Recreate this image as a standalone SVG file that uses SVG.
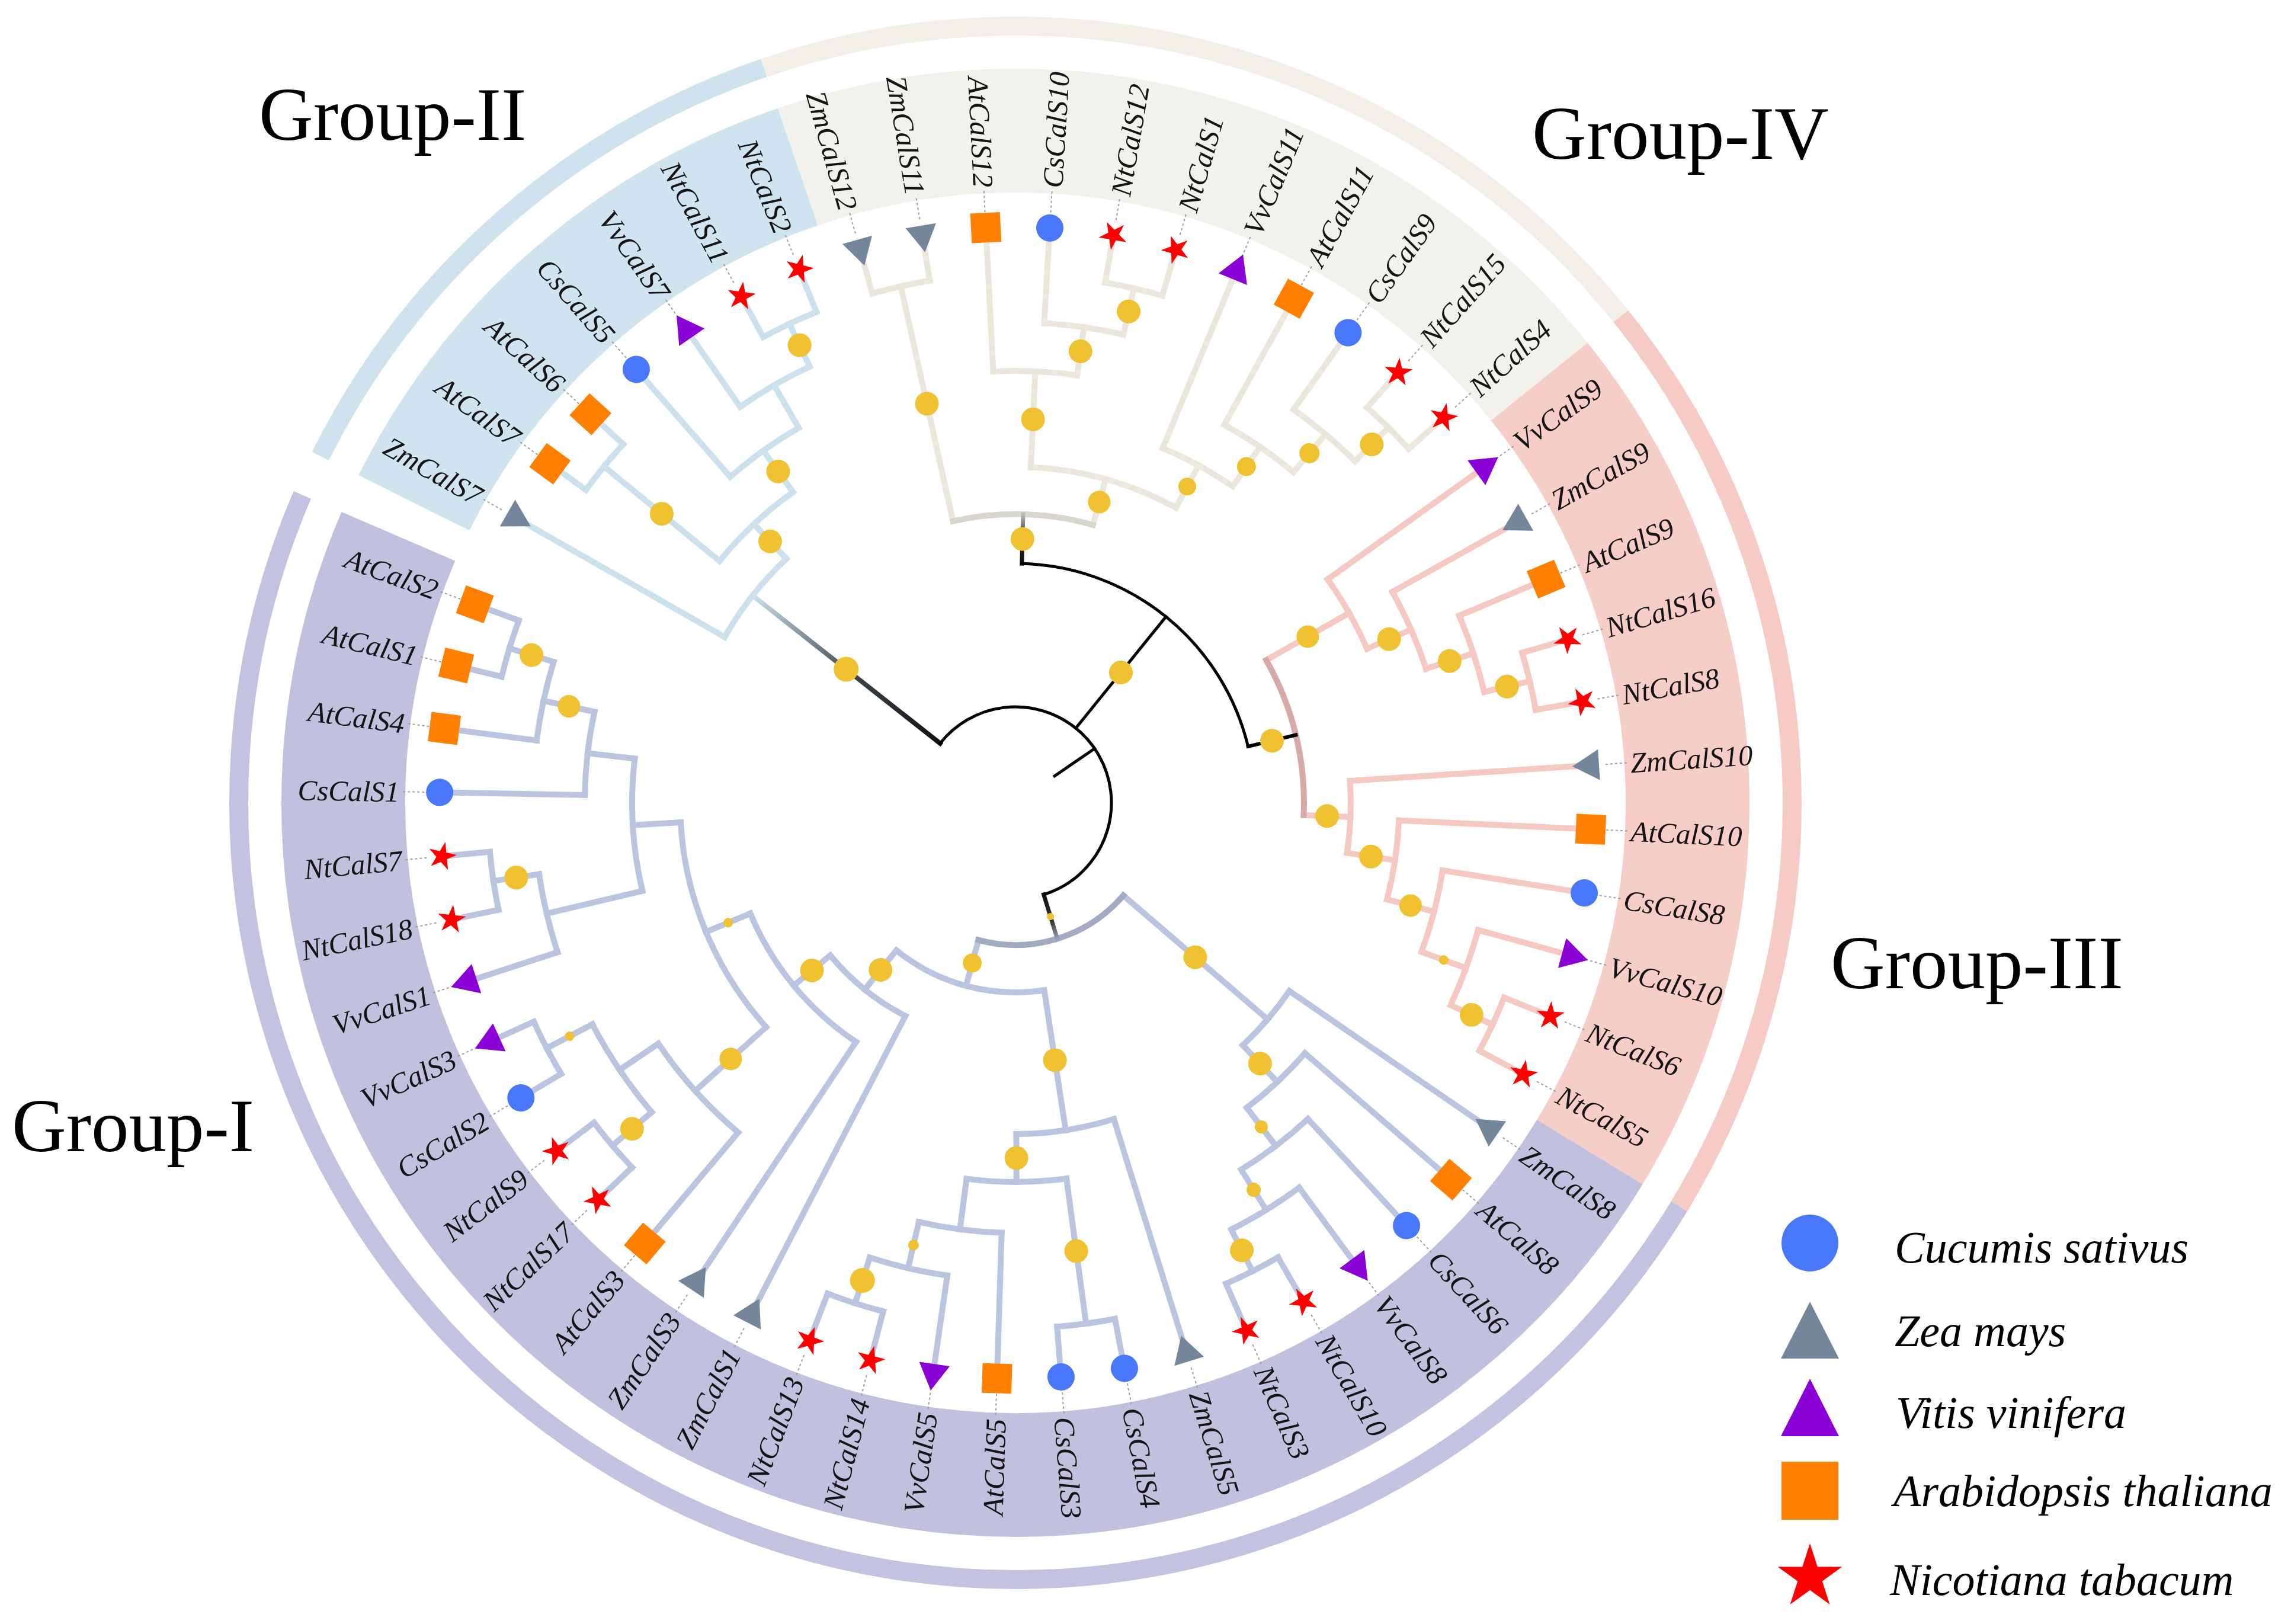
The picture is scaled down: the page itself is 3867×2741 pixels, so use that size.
<svg xmlns="http://www.w3.org/2000/svg" xmlns:xlink="http://www.w3.org/1999/xlink" width="3867" height="2741" viewBox="0 0 3867 2741">
<defs>
<style>
.lb{font-family:"Liberation Serif","Times New Roman",serif;font-style:italic;font-size:49px;fill:#141414}
.lr{text-anchor:end}
.ld{stroke:#a0a0a0;stroke-width:2;stroke-dasharray:4 4;fill:none}
.gl{font-family:"Liberation Serif","Times New Roman",serif;font-size:127px;fill:#000}
.lg{font-family:"Liberation Serif","Times New Roman",serif;font-style:italic;font-size:76px;fill:#000}
.dot{fill:#f0c232}
</style>
<circle id="cs" r="23" fill="#4877fa"/>
<rect id="at" x="-25" y="-25" width="50" height="50" fill="#ff8000"/>
<polygon id="zm" points="-30,0 15,26 15,-26" fill="#74879a"/>
<polygon id="vv" points="30,0 -15,26 -15,-26" fill="#8b02d6"/>
<polygon id="nt" points="-25,0 -7.77,-5.64 -7.73,-23.78 2.97,-9.13 20.23,-14.69 9.6,0 20.23,14.69 2.97,9.13 -7.73,23.78 -7.77,5.64" fill="#ff0000"/>
<linearGradient id="gF" gradientUnits="userSpaceOnUse" x1="162" y1="0" x2="565" y2="0"><stop offset="0" stop-color="#111"/><stop offset="0.45" stop-color="#3c434b"/><stop offset="1" stop-color="#cbe1ee"/></linearGradient>
<linearGradient id="gV" gradientUnits="userSpaceOnUse" x1="404" y1="0" x2="487" y2="0"><stop offset="0" stop-color="#111"/><stop offset="0.5" stop-color="#222"/><stop offset="1" stop-color="#bdbbb5"/></linearGradient>
<linearGradient id="gI" gradientUnits="userSpaceOnUse" x1="162" y1="0" x2="240" y2="0"><stop offset="0" stop-color="#111"/><stop offset="0.6" stop-color="#333"/><stop offset="1" stop-color="#9aa2ba"/></linearGradient>
</defs>
<rect width="3867" height="2741" fill="#fff"/>

<g id="bands" transform="translate(1714 1355)" fill="none">
<circle r="1134.5" stroke="#d0e4ef" stroke-width="209" pathLength="360" stroke-dasharray="44.6 720" transform="rotate(-153.49)"/>
<circle r="1134.5" stroke="#f3f1eb" stroke-width="209" pathLength="360" stroke-dasharray="70.1 720" transform="rotate(-108.89)"/>
<circle r="1134.5" stroke="#f7cdc7" stroke-width="209" pathLength="360" stroke-dasharray="70.09 720" transform="rotate(-38.79)"/>
<circle r="1134.5" stroke="#c1c0df" stroke-width="209" pathLength="360" stroke-dasharray="172.05 720" transform="rotate(31.3)"/>
<circle r="1311" stroke="#cfe3ee" stroke-width="32" pathLength="360" stroke-dasharray="44.6 720" transform="rotate(-153.49)"/>
<circle r="1311" stroke="#f2efe8" stroke-width="32" pathLength="360" stroke-dasharray="70.1 720" transform="rotate(-108.89)"/>
<circle r="1311" stroke="#f7cbc5" stroke-width="32" pathLength="360" stroke-dasharray="70.09 720" transform="rotate(-38.79)"/>
<circle r="1311" stroke="#c3c2e1" stroke-width="32" pathLength="360" stroke-dasharray="172.05 720" transform="rotate(31.3)"/>
</g>

<g id="connectors" transform="translate(1714 1355)" fill="none" stroke-linecap="square">
<g id="c-group2" stroke="#cbe1ee" stroke-width="10">
<circle r="894" pathLength="360" stroke-dasharray="6.37 720" transform="rotate(-118.44)"/>
<path d="M894 0H972" transform="rotate(-118.44)"/><path d="M894 0H972" transform="rotate(-112.07)"/>
<circle r="814" pathLength="360" stroke-dasharray="9.555 720" transform="rotate(-124.81)"/>
<path d="M814 0H972" transform="rotate(-124.81)"/><path d="M814 0H894" transform="rotate(-115.255)"/>
<circle r="731" pathLength="360" stroke-dasharray="11.15 720" transform="rotate(-131.18)"/>
<path d="M731 0H972" transform="rotate(-131.18)"/><path d="M731 0H814" transform="rotate(-120.03)"/>
<circle r="897" pathLength="360" stroke-dasharray="6.37 720" transform="rotate(-143.93)"/>
<path d="M897 0H972" transform="rotate(-143.93)"/><path d="M897 0H972" transform="rotate(-137.56)"/>
<circle r="645" pathLength="360" stroke-dasharray="15.135 720" transform="rotate(-140.745)"/>
<path d="M645 0H897" transform="rotate(-140.745)"/><path d="M645 0H731" transform="rotate(-125.61)"/>
<circle r="565" pathLength="360" stroke-dasharray="17.12 720" transform="rotate(-150.3)"/>
<path d="M565 0H972" transform="rotate(-150.3)"/><path d="M565 0H645" transform="rotate(-133.18)"/>
</g>
<path d="M162 0H565" stroke="url(#gF)" stroke-width="8" transform="rotate(-141.74)"/>

<g id="c-group4" stroke="#ebe7dd" stroke-width="10">
<circle r="893" pathLength="360" stroke-dasharray="6.38 720" transform="rotate(-105.7)"/>
<path d="M893 0H972" transform="rotate(-105.7)"/><path d="M893 0H972" transform="rotate(-99.32)"/>
<circle r="891" pathLength="360" stroke-dasharray="6.37 720" transform="rotate(-80.21)"/>
<path d="M891 0H972" transform="rotate(-80.21)"/><path d="M891 0H972" transform="rotate(-73.84)"/>
<circle r="811" pathLength="360" stroke-dasharray="9.555 720" transform="rotate(-86.58)"/>
<path d="M811 0H972" transform="rotate(-86.58)"/><path d="M811 0H891" transform="rotate(-77.025)"/>
<circle r="729" pathLength="360" stroke-dasharray="11.15 720" transform="rotate(-92.95)"/>
<path d="M729 0H972" transform="rotate(-92.95)"/><path d="M729 0H811" transform="rotate(-81.8)"/>
<circle r="893" pathLength="360" stroke-dasharray="6.37 720" transform="rotate(-48.35)"/>
<path d="M893 0H972" transform="rotate(-48.35)"/><path d="M893 0H972" transform="rotate(-41.98)"/>
<circle r="813" pathLength="360" stroke-dasharray="9.555 720" transform="rotate(-54.72)"/>
<path d="M813 0H972" transform="rotate(-54.72)"/><path d="M813 0H893" transform="rotate(-45.165)"/>
<circle r="729" pathLength="360" stroke-dasharray="11.15 720" transform="rotate(-61.09)"/>
<path d="M729 0H972" transform="rotate(-61.09)"/><path d="M729 0H813" transform="rotate(-49.94)"/>
<circle r="648" pathLength="360" stroke-dasharray="11.945 720" transform="rotate(-67.46)"/>
<path d="M648 0H972" transform="rotate(-67.46)"/><path d="M648 0H729" transform="rotate(-55.515)"/>
<circle r="567" pathLength="360" stroke-dasharray="25.885 720" transform="rotate(-87.375)"/>
<path d="M567 0H729" transform="rotate(-87.375)"/><path d="M567 0H648" transform="rotate(-61.49)"/>
<path d="M487 0H893" transform="rotate(-102.51)"/><path d="M487 0H567" transform="rotate(-74.43)"/>
</g>
<circle r="487" stroke="#d9d6cd" stroke-width="10" pathLength="360" stroke-dasharray="28.08 720" transform="rotate(-102.51)"/>
<path d="M404 0H487" stroke="url(#gV)" stroke-width="7" transform="rotate(-88.47)"/>

<g id="c-group3" stroke="#f5c8c1" stroke-width="10">
<circle r="892" pathLength="360" stroke-dasharray="6.37 720" transform="rotate(-16.49)"/>
<path d="M892 0H972" transform="rotate(-16.49)"/><path d="M892 0H972" transform="rotate(-10.12)"/>
<circle r="813" pathLength="360" stroke-dasharray="9.555 720" transform="rotate(-22.86)"/>
<path d="M813 0H972" transform="rotate(-22.86)"/><path d="M813 0H892" transform="rotate(-13.305)"/>
<circle r="729" pathLength="360" stroke-dasharray="11.15 720" transform="rotate(-29.23)"/>
<path d="M729 0H972" transform="rotate(-29.23)"/><path d="M729 0H813" transform="rotate(-18.08)"/>
<circle r="648" pathLength="360" stroke-dasharray="11.945 720" transform="rotate(-35.6)"/>
<path d="M648 0H972" transform="rotate(-35.6)"/><path d="M648 0H729" transform="rotate(-23.655)"/>
<circle r="888" pathLength="360" stroke-dasharray="6.38 720" transform="rotate(21.74)"/>
<path d="M888 0H972" transform="rotate(21.74)"/><path d="M888 0H972" transform="rotate(28.12)"/>
<circle r="810" pathLength="360" stroke-dasharray="9.56 720" transform="rotate(15.37)"/>
<path d="M810 0H972" transform="rotate(15.37)"/><path d="M810 0H888" transform="rotate(24.93)"/>
<circle r="730" pathLength="360" stroke-dasharray="11.15 720" transform="rotate(9)"/>
<path d="M730 0H972" transform="rotate(9)"/><path d="M730 0H810" transform="rotate(20.15)"/>
<circle r="648" pathLength="360" stroke-dasharray="11.945 720" transform="rotate(2.63)"/>
<path d="M648 0H972" transform="rotate(2.63)"/><path d="M648 0H730" transform="rotate(14.575)"/>
<circle r="566" pathLength="360" stroke-dasharray="12.34 720" transform="rotate(-3.74)"/>
<path d="M566 0H972" transform="rotate(-3.74)"/><path d="M566 0H648" transform="rotate(8.6)"/>
<path d="M487 0H648" transform="rotate(-29.63)"/><path d="M487 0H566" transform="rotate(2.43)"/>
</g>
<circle r="487" stroke="#d6aaa6" stroke-width="10" pathLength="360" stroke-dasharray="32.06 720" transform="rotate(-29.63)"/>

<g id="c-group1" stroke="#bcc5df" stroke-width="10">
<circle r="886" pathLength="360" stroke-dasharray="6.37 720" transform="rotate(59.98)"/>
<path d="M886 0H972" transform="rotate(59.98)"/><path d="M886 0H972" transform="rotate(66.35)"/>
<circle r="807" pathLength="360" stroke-dasharray="9.565 720" transform="rotate(53.6)"/>
<path d="M807 0H972" transform="rotate(53.6)"/><path d="M807 0H886" transform="rotate(63.165)"/>
<circle r="727" pathLength="360" stroke-dasharray="11.15 720" transform="rotate(47.23)"/>
<path d="M727 0H972" transform="rotate(47.23)"/><path d="M727 0H807" transform="rotate(58.38)"/>
<circle r="646" pathLength="360" stroke-dasharray="11.95 720" transform="rotate(40.86)"/>
<path d="M646 0H972" transform="rotate(40.86)"/><path d="M646 0H727" transform="rotate(52.81)"/>
<circle r="561" pathLength="360" stroke-dasharray="12.34 720" transform="rotate(34.49)"/>
<path d="M561 0H972" transform="rotate(34.49)"/><path d="M561 0H646" transform="rotate(46.83)"/>
<circle r="887" pathLength="360" stroke-dasharray="6.37 720" transform="rotate(79.09)"/>
<path d="M887 0H972" transform="rotate(79.09)"/><path d="M887 0H972" transform="rotate(85.46)"/>
<circle r="887" pathLength="360" stroke-dasharray="6.37 720" transform="rotate(104.58)"/>
<path d="M887 0H972" transform="rotate(104.58)"/><path d="M887 0H972" transform="rotate(110.95)"/>
<circle r="806" pathLength="360" stroke-dasharray="9.555 720" transform="rotate(98.21)"/>
<path d="M806 0H972" transform="rotate(98.21)"/><path d="M806 0H887" transform="rotate(107.765)"/>
<circle r="726" pathLength="360" stroke-dasharray="11.15 720" transform="rotate(91.84)"/>
<path d="M726 0H972" transform="rotate(91.84)"/><path d="M726 0H806" transform="rotate(102.99)"/>
<circle r="640" pathLength="360" stroke-dasharray="15.14 720" transform="rotate(82.275)"/>
<path d="M640 0H887" transform="rotate(82.275)"/><path d="M640 0H726" transform="rotate(97.415)"/>
<circle r="559" pathLength="360" stroke-dasharray="17.125 720" transform="rotate(72.72)"/>
<path d="M559 0H972" transform="rotate(72.72)"/><path d="M559 0H640" transform="rotate(89.845)"/>
<circle r="891" pathLength="360" stroke-dasharray="6.37 720" transform="rotate(168.3)"/>
<path d="M891 0H972" transform="rotate(168.3)"/><path d="M891 0H972" transform="rotate(174.67)"/>
<circle r="813" pathLength="360" stroke-dasharray="9.555 720" transform="rotate(161.93)"/>
<path d="M813 0H972" transform="rotate(161.93)"/><path d="M813 0H891" transform="rotate(171.485)"/>
<circle r="893" pathLength="360" stroke-dasharray="6.37 720" transform="rotate(193.79)"/>
<path d="M893 0H972" transform="rotate(193.79)"/><path d="M893 0H972" transform="rotate(200.16)"/>
<circle r="815" pathLength="360" stroke-dasharray="9.555 720" transform="rotate(187.42)"/>
<path d="M815 0H972" transform="rotate(187.42)"/><path d="M815 0H893" transform="rotate(196.975)"/>
<circle r="727" pathLength="360" stroke-dasharray="11.16 720" transform="rotate(181.04)"/>
<path d="M727 0H972" transform="rotate(181.04)"/><path d="M727 0H815" transform="rotate(192.2)"/>
<circle r="647" pathLength="360" stroke-dasharray="19.91 720" transform="rotate(166.71)"/>
<path d="M647 0H813" transform="rotate(166.71)"/><path d="M647 0H727" transform="rotate(186.62)"/>
<circle r="893" pathLength="360" stroke-dasharray="6.38 720" transform="rotate(149.18)"/>
<path d="M893 0H972" transform="rotate(149.18)"/><path d="M893 0H972" transform="rotate(155.56)"/>
<circle r="893" pathLength="360" stroke-dasharray="6.37 720" transform="rotate(136.44)"/>
<path d="M893 0H972" transform="rotate(136.44)"/><path d="M893 0H972" transform="rotate(142.81)"/>
<circle r="806" pathLength="360" stroke-dasharray="12.745 720" transform="rotate(139.625)"/>
<path d="M806 0H893" transform="rotate(139.625)"/><path d="M806 0H893" transform="rotate(152.37)"/>
<circle r="727" pathLength="360" stroke-dasharray="15.93 720" transform="rotate(130.07)"/>
<path d="M727 0H972" transform="rotate(130.07)"/><path d="M727 0H806" transform="rotate(146)"/>
<circle r="566" pathLength="360" stroke-dasharray="38.635 720" transform="rotate(138.03)"/>
<path d="M566 0H727" transform="rotate(138.03)"/><path d="M566 0H647" transform="rotate(176.665)"/>
<circle r="485" pathLength="360" stroke-dasharray="33.65 720" transform="rotate(123.7)"/>
<path d="M485 0H972" transform="rotate(123.7)"/><path d="M485 0H566" transform="rotate(157.35)"/>
<circle r="405" pathLength="360" stroke-dasharray="23.2 720" transform="rotate(117.32)"/>
<path d="M405 0H972" transform="rotate(117.32)"/><path d="M405 0H485" transform="rotate(140.52)"/>
<circle r="320" pathLength="360" stroke-dasharray="47.64 720" transform="rotate(81.28)"/>
<path d="M320 0H559" transform="rotate(81.28)"/><path d="M320 0H405" transform="rotate(128.92)"/>
<path d="M240 0H561" transform="rotate(40.66)"/><path d="M240 0H320" transform="rotate(105.1)"/>
</g>
<circle r="240" stroke="#a3abc3" stroke-width="10" pathLength="360" stroke-dasharray="64.44 720" transform="rotate(40.66)"/>
<path d="M162 0H240" stroke="url(#gI)" stroke-width="7" transform="rotate(72.88)"/>

<g id="c-root" stroke="#000" stroke-width="5">
<circle r="162" pathLength="360" stroke-dasharray="214.62 720" transform="rotate(-141.74)"/>
<path d="M80 0H162" transform="rotate(-34.43)"/>
<circle r="404" pathLength="360" stroke-dasharray="74.87 720" transform="rotate(-88.47)"/>
<path d="M162 0H404" transform="rotate(-51.035)"/>
<path d="M404 0H487" stroke-width="6" transform="rotate(-13.6)"/>
</g>
</g>

<g id="bootstrap" transform="translate(1714 1355)" class="dot">
<circle cx="854" r="20" transform="rotate(-115.255)"/>
<circle cx="688" r="20" transform="rotate(-125.61)"/>
<circle cx="771" r="20" transform="rotate(-140.745)"/>
<circle cx="605" r="20" transform="rotate(-133.18)"/>
<circle cx="364" r="21" transform="rotate(-141.74)"/>
<circle cx="445.5" r="20" transform="rotate(-88.47)"/>
<circle cx="690" r="20" transform="rotate(-102.51)"/>
<circle cx="527" r="19" transform="rotate(-74.43)"/>
<circle cx="648" r="20" transform="rotate(-87.375)"/>
<circle cx="770" r="20" transform="rotate(-81.8)"/>
<circle cx="851" r="20" transform="rotate(-77.025)"/>
<circle cx="607.5" r="15" transform="rotate(-61.49)"/>
<circle cx="688.5" r="16" transform="rotate(-55.515)"/>
<circle cx="771" r="17" transform="rotate(-49.94)"/>
<circle cx="853" r="20" transform="rotate(-45.165)"/>
<circle cx="445.5" r="20" transform="rotate(-13.6)"/>
<circle cx="567.5" r="19" transform="rotate(-29.63)"/>
<circle cx="688.5" r="20" transform="rotate(-23.655)"/>
<circle cx="771" r="20" transform="rotate(-18.08)"/>
<circle cx="852.5" r="20" transform="rotate(-13.305)"/>
<circle cx="526.5" r="20" transform="rotate(2.43)"/>
<circle cx="607" r="20" transform="rotate(8.6)"/>
<circle cx="689" r="19" transform="rotate(14.575)"/>
<circle cx="770" r="8" transform="rotate(20.15)"/>
<circle cx="849" r="20" transform="rotate(24.93)"/>
<circle cx="283" r="20" transform="rotate(-51.035)"/>
<circle cx="201" r="6" transform="rotate(72.88)"/>
<circle cx="400" r="20" transform="rotate(40.66)"/>
<circle cx="603.5" r="20" transform="rotate(46.83)"/>
<circle cx="686.5" r="11" transform="rotate(52.81)"/>
<circle cx="767" r="12" transform="rotate(58.38)"/>
<circle cx="846.5" r="20" transform="rotate(63.165)"/>
<circle cx="280" r="16" transform="rotate(105.1)"/>
<circle cx="439.5" r="20" transform="rotate(81.28)"/>
<circle cx="599.5" r="20" transform="rotate(89.845)"/>
<circle cx="763.5" r="20" transform="rotate(82.275)"/>
<circle cx="766" r="9" transform="rotate(102.99)"/>
<circle cx="846.5" r="21" transform="rotate(107.765)"/>
<circle cx="362.5" r="20" transform="rotate(128.92)"/>
<circle cx="445" r="20" transform="rotate(140.52)"/>
<circle cx="525.5" r="8" transform="rotate(157.35)"/>
<circle cx="646.5" r="19" transform="rotate(138.03)"/>
<circle cx="849.5" r="20" transform="rotate(139.625)"/>
<circle cx="849.5" r="8" transform="rotate(152.37)"/>
<circle cx="771" r="19" transform="rotate(192.2)"/>
<circle cx="854" r="20" transform="rotate(196.975)"/>
<circle cx="852" r="20" transform="rotate(171.485)"/>
</g>

<g id="leaves" transform="translate(1714 1355)">
<g id="leaf-ZmCalS7" transform="rotate(-150.3)"><path class="ld" d="M998 0H1036"/><use href="#zm" x="972"/><text class="lb lr" transform="rotate(180)" x="-1040" dy=".35em">ZmCalS7</text></g>
<g id="leaf-AtCalS7" transform="rotate(-143.93)"><path class="ld" d="M998 0H1036"/><use href="#at" x="972"/><text class="lb lr" transform="rotate(180)" x="-1040" dy=".35em">AtCalS7</text></g>
<g id="leaf-AtCalS6" transform="rotate(-137.56)"><path class="ld" d="M998 0H1036"/><use href="#at" x="972"/><text class="lb lr" transform="rotate(180)" x="-1040" dy=".35em">AtCalS6</text></g>
<g id="leaf-CsCalS5" transform="rotate(-131.18)"><path class="ld" d="M998 0H1036"/><use href="#cs" x="972"/><text class="lb lr" transform="rotate(180)" x="-1040" dy=".35em">CsCalS5</text></g>
<g id="leaf-VvCalS7" transform="rotate(-124.81)"><path class="ld" d="M998 0H1036"/><use href="#vv" x="972"/><text class="lb lr" transform="rotate(180)" x="-1040" dy=".35em">VvCalS7</text></g>
<g id="leaf-NtCalS11" transform="rotate(-118.44)"><path class="ld" d="M998 0H1036"/><use href="#nt" x="972"/><text class="lb lr" transform="rotate(180)" x="-1040" dy=".35em">NtCalS11</text></g>
<g id="leaf-NtCalS2" transform="rotate(-112.07)"><path class="ld" d="M998 0H1036"/><use href="#nt" x="972"/><text class="lb lr" transform="rotate(180)" x="-1040" dy=".35em">NtCalS2</text></g>
<g id="leaf-ZmCalS12" transform="rotate(-105.7)"><path class="ld" d="M998 0H1036"/><use href="#zm" x="972"/><text class="lb lr" transform="rotate(180)" x="-1040" dy=".35em">ZmCalS12</text></g>
<g id="leaf-ZmCalS11" transform="rotate(-99.32)"><path class="ld" d="M998 0H1036"/><use href="#zm" x="972"/><text class="lb lr" transform="rotate(180)" x="-1040" dy=".35em">ZmCalS11</text></g>
<g id="leaf-AtCalS12" transform="rotate(-92.95)"><path class="ld" d="M998 0H1036"/><use href="#at" x="972"/><text class="lb lr" transform="rotate(180)" x="-1040" dy=".35em">AtCalS12</text></g>
<g id="leaf-CsCalS10" transform="rotate(-86.58)"><path class="ld" d="M998 0H1036"/><use href="#cs" x="972"/><text class="lb" x="1040" dy=".35em">CsCalS10</text></g>
<g id="leaf-NtCalS12" transform="rotate(-80.21)"><path class="ld" d="M998 0H1036"/><use href="#nt" x="972"/><text class="lb" x="1040" dy=".35em">NtCalS12</text></g>
<g id="leaf-NtCalS1" transform="rotate(-73.84)"><path class="ld" d="M998 0H1036"/><use href="#nt" x="972"/><text class="lb" x="1040" dy=".35em">NtCalS1</text></g>
<g id="leaf-VvCalS11" transform="rotate(-67.46)"><path class="ld" d="M998 0H1036"/><use href="#vv" x="972"/><text class="lb" x="1040" dy=".35em">VvCalS11</text></g>
<g id="leaf-AtCalS11" transform="rotate(-61.09)"><path class="ld" d="M998 0H1036"/><use href="#at" x="972"/><text class="lb" x="1040" dy=".35em">AtCalS11</text></g>
<g id="leaf-CsCalS9" transform="rotate(-54.72)"><path class="ld" d="M998 0H1036"/><use href="#cs" x="972"/><text class="lb" x="1040" dy=".35em">CsCalS9</text></g>
<g id="leaf-NtCalS15" transform="rotate(-48.35)"><path class="ld" d="M998 0H1036"/><use href="#nt" x="972"/><text class="lb" x="1040" dy=".35em">NtCalS15</text></g>
<g id="leaf-NtCalS4" transform="rotate(-41.98)"><path class="ld" d="M998 0H1036"/><use href="#nt" x="972"/><text class="lb" x="1040" dy=".35em">NtCalS4</text></g>
<g id="leaf-VvCalS9" transform="rotate(-35.6)"><path class="ld" d="M998 0H1036"/><use href="#vv" x="972"/><text class="lb" x="1040" dy=".35em">VvCalS9</text></g>
<g id="leaf-ZmCalS9" transform="rotate(-29.23)"><path class="ld" d="M998 0H1036"/><use href="#zm" x="972"/><text class="lb" x="1040" dy=".35em">ZmCalS9</text></g>
<g id="leaf-AtCalS9" transform="rotate(-22.86)"><path class="ld" d="M998 0H1036"/><use href="#at" x="972"/><text class="lb" x="1040" dy=".35em">AtCalS9</text></g>
<g id="leaf-NtCalS16" transform="rotate(-16.49)"><path class="ld" d="M998 0H1036"/><use href="#nt" x="972"/><text class="lb" x="1040" dy=".35em">NtCalS16</text></g>
<g id="leaf-NtCalS8" transform="rotate(-10.12)"><path class="ld" d="M998 0H1036"/><use href="#nt" x="972"/><text class="lb" x="1040" dy=".35em">NtCalS8</text></g>
<g id="leaf-ZmCalS10" transform="rotate(-3.74)"><path class="ld" d="M998 0H1036"/><use href="#zm" x="972"/><text class="lb" x="1040" dy=".35em">ZmCalS10</text></g>
<g id="leaf-AtCalS10" transform="rotate(2.63)"><path class="ld" d="M998 0H1036"/><use href="#at" x="972"/><text class="lb" x="1040" dy=".35em">AtCalS10</text></g>
<g id="leaf-CsCalS8" transform="rotate(9)"><path class="ld" d="M998 0H1036"/><use href="#cs" x="972"/><text class="lb" x="1040" dy=".35em">CsCalS8</text></g>
<g id="leaf-VvCalS10" transform="rotate(15.37)"><path class="ld" d="M998 0H1036"/><use href="#vv" x="972"/><text class="lb" x="1040" dy=".35em">VvCalS10</text></g>
<g id="leaf-NtCalS6" transform="rotate(21.74)"><path class="ld" d="M998 0H1036"/><use href="#nt" x="972"/><text class="lb" x="1040" dy=".35em">NtCalS6</text></g>
<g id="leaf-NtCalS5" transform="rotate(28.12)"><path class="ld" d="M998 0H1036"/><use href="#nt" x="972"/><text class="lb" x="1040" dy=".35em">NtCalS5</text></g>
<g id="leaf-ZmCalS8" transform="rotate(34.49)"><path class="ld" d="M998 0H1036"/><use href="#zm" x="972"/><text class="lb" x="1040" dy=".35em">ZmCalS8</text></g>
<g id="leaf-AtCalS8" transform="rotate(40.86)"><path class="ld" d="M998 0H1036"/><use href="#at" x="972"/><text class="lb" x="1040" dy=".35em">AtCalS8</text></g>
<g id="leaf-CsCalS6" transform="rotate(47.23)"><path class="ld" d="M998 0H1036"/><use href="#cs" x="972"/><text class="lb" x="1040" dy=".35em">CsCalS6</text></g>
<g id="leaf-VvCalS8" transform="rotate(53.6)"><path class="ld" d="M998 0H1036"/><use href="#vv" x="972"/><text class="lb" x="1040" dy=".35em">VvCalS8</text></g>
<g id="leaf-NtCalS10" transform="rotate(59.98)"><path class="ld" d="M998 0H1036"/><use href="#nt" x="972"/><text class="lb" x="1040" dy=".35em">NtCalS10</text></g>
<g id="leaf-NtCalS3" transform="rotate(66.35)"><path class="ld" d="M998 0H1036"/><use href="#nt" x="972"/><text class="lb" x="1040" dy=".35em">NtCalS3</text></g>
<g id="leaf-ZmCalS5" transform="rotate(72.72)"><path class="ld" d="M998 0H1036"/><use href="#zm" x="972"/><text class="lb" x="1040" dy=".35em">ZmCalS5</text></g>
<g id="leaf-CsCalS4" transform="rotate(79.09)"><path class="ld" d="M998 0H1036"/><use href="#cs" x="972"/><text class="lb" x="1040" dy=".35em">CsCalS4</text></g>
<g id="leaf-CsCalS3" transform="rotate(85.46)"><path class="ld" d="M998 0H1036"/><use href="#cs" x="972"/><text class="lb" x="1040" dy=".35em">CsCalS3</text></g>
<g id="leaf-AtCalS5" transform="rotate(91.84)"><path class="ld" d="M998 0H1036"/><use href="#at" x="972"/><text class="lb lr" transform="rotate(180)" x="-1040" dy=".35em">AtCalS5</text></g>
<g id="leaf-VvCalS5" transform="rotate(98.21)"><path class="ld" d="M998 0H1036"/><use href="#vv" x="972"/><text class="lb lr" transform="rotate(180)" x="-1040" dy=".35em">VvCalS5</text></g>
<g id="leaf-NtCalS14" transform="rotate(104.58)"><path class="ld" d="M998 0H1036"/><use href="#nt" x="972"/><text class="lb lr" transform="rotate(180)" x="-1040" dy=".35em">NtCalS14</text></g>
<g id="leaf-NtCalS13" transform="rotate(110.95)"><path class="ld" d="M998 0H1036"/><use href="#nt" x="972"/><text class="lb lr" transform="rotate(180)" x="-1040" dy=".35em">NtCalS13</text></g>
<g id="leaf-ZmCalS1" transform="rotate(117.32)"><path class="ld" d="M998 0H1036"/><use href="#zm" x="972"/><text class="lb lr" transform="rotate(180)" x="-1040" dy=".35em">ZmCalS1</text></g>
<g id="leaf-ZmCalS3" transform="rotate(123.7)"><path class="ld" d="M998 0H1036"/><use href="#zm" x="972"/><text class="lb lr" transform="rotate(180)" x="-1040" dy=".35em">ZmCalS3</text></g>
<g id="leaf-AtCalS3" transform="rotate(130.07)"><path class="ld" d="M998 0H1036"/><use href="#at" x="972"/><text class="lb lr" transform="rotate(180)" x="-1040" dy=".35em">AtCalS3</text></g>
<g id="leaf-NtCalS17" transform="rotate(136.44)"><path class="ld" d="M998 0H1036"/><use href="#nt" x="972"/><text class="lb lr" transform="rotate(180)" x="-1040" dy=".35em">NtCalS17</text></g>
<g id="leaf-NtCalS9" transform="rotate(142.81)"><path class="ld" d="M998 0H1036"/><use href="#nt" x="972"/><text class="lb lr" transform="rotate(180)" x="-1040" dy=".35em">NtCalS9</text></g>
<g id="leaf-CsCalS2" transform="rotate(149.18)"><path class="ld" d="M998 0H1036"/><use href="#cs" x="972"/><text class="lb lr" transform="rotate(180)" x="-1040" dy=".35em">CsCalS2</text></g>
<g id="leaf-VvCalS3" transform="rotate(155.56)"><path class="ld" d="M998 0H1036"/><use href="#vv" x="972"/><text class="lb lr" transform="rotate(180)" x="-1040" dy=".35em">VvCalS3</text></g>
<g id="leaf-VvCalS1" transform="rotate(161.93)"><path class="ld" d="M998 0H1036"/><use href="#vv" x="972"/><text class="lb lr" transform="rotate(180)" x="-1040" dy=".35em">VvCalS1</text></g>
<g id="leaf-NtCalS18" transform="rotate(168.3)"><path class="ld" d="M998 0H1036"/><use href="#nt" x="972"/><text class="lb lr" transform="rotate(180)" x="-1040" dy=".35em">NtCalS18</text></g>
<g id="leaf-NtCalS7" transform="rotate(174.67)"><path class="ld" d="M998 0H1036"/><use href="#nt" x="972"/><text class="lb lr" transform="rotate(180)" x="-1040" dy=".35em">NtCalS7</text></g>
<g id="leaf-CsCalS1" transform="rotate(181.04)"><path class="ld" d="M998 0H1036"/><use href="#cs" x="972"/><text class="lb lr" transform="rotate(180)" x="-1040" dy=".35em">CsCalS1</text></g>
<g id="leaf-AtCalS4" transform="rotate(187.42)"><path class="ld" d="M998 0H1036"/><use href="#at" x="972"/><text class="lb lr" transform="rotate(180)" x="-1040" dy=".35em">AtCalS4</text></g>
<g id="leaf-AtCalS1" transform="rotate(193.79)"><path class="ld" d="M998 0H1036"/><use href="#at" x="972"/><text class="lb lr" transform="rotate(180)" x="-1040" dy=".35em">AtCalS1</text></g>
<g id="leaf-AtCalS2" transform="rotate(200.16)"><path class="ld" d="M998 0H1036"/><use href="#at" x="972"/><text class="lb lr" transform="rotate(180)" x="-1040" dy=".35em">AtCalS2</text></g>
</g>

<g id="group-labels">
<text class="gl" x="437" y="236">Group-II</text>
<text class="gl" x="2586" y="268">Group-IV</text>
<text class="gl" x="3090" y="1668">Group-III</text>
<text class="gl" x="20" y="1943">Group-I</text>
</g>

<g id="legend">
<g id="legend-cs"><circle cx="3055" cy="2098" r="48" fill="#4877fa"/><text class="lg" x="3198" y="2131">Cucumis sativus</text></g>
<g id="legend-zm"><polygon points="3055,2197 3104,2293 3006,2293" fill="#74879a"/><text class="lg" x="3198" y="2272">Zea mays</text></g>
<g id="legend-vv"><polygon points="3055,2327 3104,2424 3006,2424" fill="#8b02d6"/><text class="lg" x="3200" y="2410">Vitis vinifera</text></g>
<g id="legend-at"><rect x="3007" y="2467" width="96" height="98" fill="#ff8000"/><text class="lg" x="3196" y="2542">Arabidopsis thaliana</text></g>
<g id="legend-nt"><polygon points="3055,2605 3067.8,2644.4 3109.2,2644.4 3075.7,2668.7 3088.5,2708.1 3055,2683.8 3021.5,2708.1 3034.3,2668.7 3000.8,2644.4 3042.2,2644.4" fill="#ff0000"/><text class="lg" x="3190" y="2692">Nicotiana tabacum</text></g>
</g>
</svg>
